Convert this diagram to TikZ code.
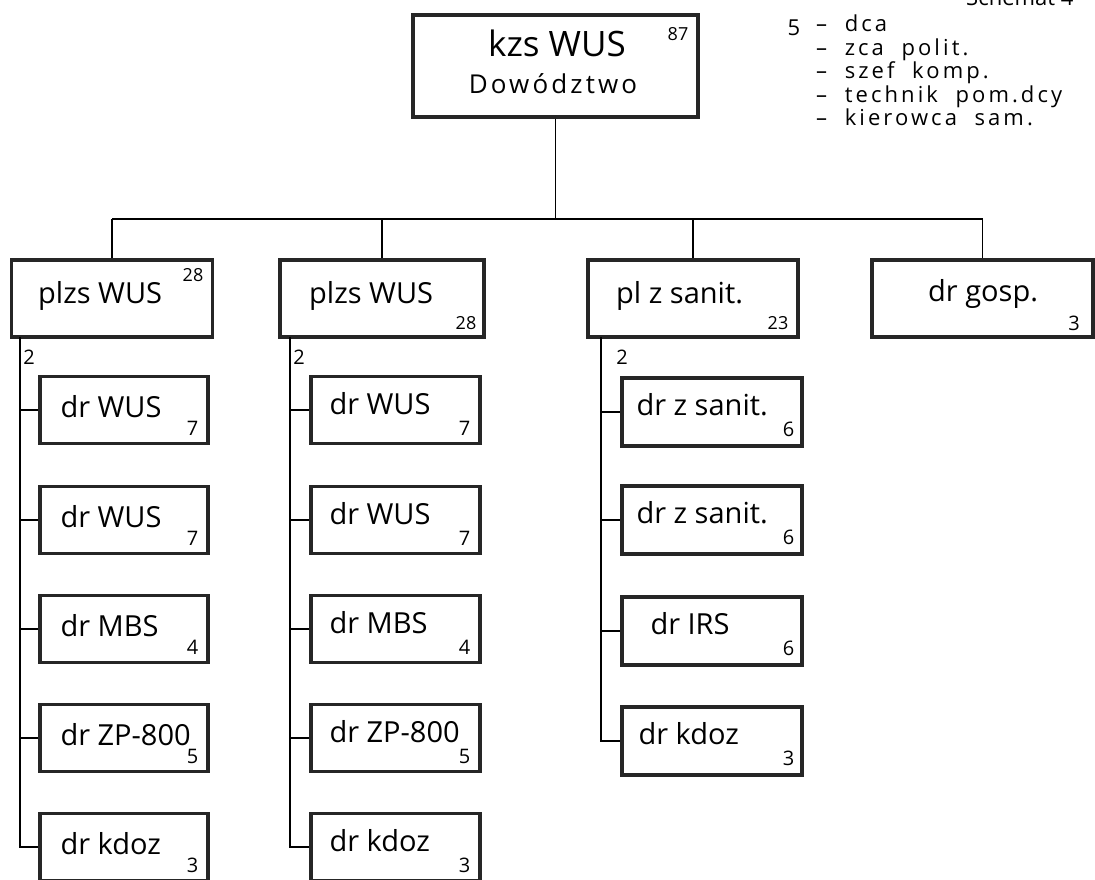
\documentclass[tikz,border=0pt]{standalone}
\usepackage{fontspec}
\setmainfont{Open Sans}
\newfontfamily\legendfont{Open Sans}[LetterSpace=14,WordSpace=2]
\usetikzlibrary{calc}
\tikzset{
  boxshape/.style={draw=black!85, line width=3.4pt, rectangle, inner sep=0pt},
  conn/.style={draw=black, line width=1.5pt},
  txt/.style={inner sep=0pt, anchor=west, font=\fontsize{29}{34}\selectfont},
  num/.style={inner sep=0pt, font=\fontsize{20}{24}\selectfont},
  smallnum/.style={inner sep=0pt, font=\fontsize{18}{22}\selectfont},
  legend/.style={inner sep=0pt, align=left, font=\legendfont\fontsize{22}{23.5}\selectfont},
}
\begin{document}
\begin{tikzpicture}[x=1pt,y=-1pt]
\useasboundingbox (0,0) rectangle (1095,879);
\fill[white] (0,0) rectangle (1095,879);

% top box
\node[boxshape, minimum width=285, minimum height=102] (top) at (555.5,66) {};
\node[inner sep=0pt, font=\fontsize{35}{40}\selectfont] (toptxt) at (557,43) {kzs WUS};
\node[inner sep=0pt, font=\fontsize{26}{30}\selectfont\addfontfeature{LetterSpace=12}] (toptxt2) at (553,84) {Dowództwo};
\node[smallnum] (topnum) at (678,34) {87};

% legend
\node[inner sep=0pt, anchor=west, font=\fontsize{22}{24}\selectfont] (lg0) at (966,-3) {Schemat 4};
\node[legend, anchor=center] (lg5n) at (794,28) {5};
\node[legend, anchor=north west] (lg) at (816,15) {– dca\\– zca polit.\\– szef komp.\\– technik pom.dcy\\– kierowca sam.};

% level 2 boxes
\node[boxshape, minimum width=201, minimum height=77] (b1) at (112,298.5) {};
\node[boxshape, minimum width=204, minimum height=77] (b2) at (382,298.5) {};
\node[boxshape, minimum width=210, minimum height=77] (b3) at (693,298.5) {};
\node[boxshape, minimum width=221, minimum height=77] (b4) at (982.5,298.5) {};

\node[txt] (b1t) at (38,296) {plzs WUS};
\node[smallnum] (b1n) at (193,275) {28};
\node[txt] (b2t) at (309,296) {plzs WUS};
\node[smallnum] (b2n) at (466,323) {28};
\node[txt] (b3t) at (616,296) {pl z sanit.};
\node[smallnum] (b3n) at (778,323) {23};
\node[txt] (b4t) at (928,294) {dr gosp.};
\node[num] (b4n) at (1074,323) {3};

% bus
\coordinate (busL) at (112,219);
\coordinate (busR) at (982.5,219);
\draw[conn] (busL) -- (busR);
\draw[conn] (top.south) -- (top.south |- busL);
\draw[conn] (b1.north) -- (b1.north |- busL);
\draw[conn] (b2.north) -- (b2.north |- busL);
\draw[conn] (b3.north) -- (b3.north |- busL);
\draw[conn] (b4.north) -- (b4.north |- busL);

% sub boxes column 1
\foreach \r/\y/\t/\n in {1/410/dr WUS/7, 2/520/dr WUS/7, 3/629/dr MBS/4, 4/738/{dr ZP-800}/5, 5/847/dr kdoz/3}{
  \node[boxshape, minimum width=168, minimum height=67] (c1r\r) at (124,\y) {};
  \node[txt] (c1t\r) at ($(c1r\r.west)+(22,-3)$) {\t};
  \node[num] (c1n\r) at ($(c1r\r.south east)+(-17,-17)$) {\n};
}
% column 2
\foreach \r/\y/\t/\n in {1/410/dr WUS/7, 2/520/dr WUS/7, 3/629/dr MBS/4, 4/738/{dr ZP-800}/5, 5/847/dr kdoz/3}{
  \node[boxshape, minimum width=169, minimum height=67] (c2r\r) at (395.5,\y) {};
  \node[txt] (c2t\r) at ($(c2r\r.west)+(20,-6)$) {\t};
  \node[num] (c2n\r) at ($(c2r\r.south east)+(-17,-17)$) {\n};
}
% column 3
\foreach \r/\y/\t/\n/\dx in {1/412/dr z sanit./6/16, 2/520/dr z sanit./6/16, 3/631/dr IRS/6/30, 4/741/dr kdoz/3/18}{
  \node[boxshape, minimum width=180, minimum height=68] (c3r\r) at (712,\y) {};
  \node[txt] (c3t\r) at ($(c3r\r.west)+(\dx,-7)$) {\t};
  \node[num] (c3n\r) at ($(c3r\r.south east)+(-15,-18)$) {\n};
}

% spines
\coordinate (s1) at (20,337);
\coordinate (s2) at (290,337);
\coordinate (s3) at (601,337);
\draw[conn] (s1) |- (c1r5.west);
\draw[conn] (s2) |- (c2r5.west);
\draw[conn] (s3) |- (c3r4.west);
\foreach \r in {1,2,3,4}{
  \draw[conn] (s1 |- c1r\r.west) -- (c1r\r.west);
  \draw[conn] (s2 |- c2r\r.west) -- (c2r\r.west);
}
\foreach \r in {1,2,3}{
  \draw[conn] (s3 |- c3r\r.west) -- (c3r\r.west);
}
\node[num] (s1n) at (29,357) {2};
\node[num] (s2n) at (299,357) {2};
\node[num] (s3n) at (622,357) {2};
\end{tikzpicture}
\end{document}
